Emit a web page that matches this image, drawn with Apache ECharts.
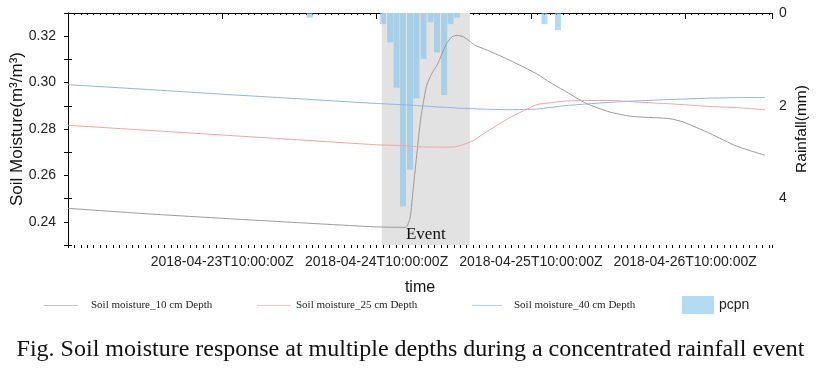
<!DOCTYPE html>
<html><head><meta charset="utf-8">
<script src="https://cdn.jsdelivr.net/npm/echarts@6/dist/echarts.min.js"></script>
<style>html,body{margin:0;padding:0;background:#fff}#c{width:821px;height:374px}</style>
</head><body><div id="c"></div>
<script>
// hours since 2018-04-22T10:00:00Z
const moistureHours = [0, 12, 24, 36, 48, 52.5, 53.2, 53.7, 54.3, 54.8, 55.3, 55.8, 56.6, 57.4, 58.2, 58.9, 59.7, 60.5, 61.5, 62.6, 63.3, 65.2, 68.8, 72.9, 75, 77.1, 80.7, 84.3, 87.5, 91, 93.5, 95.7, 99.9, 104, 108.4];
const moisture10cm = [0.2458, 0.2435, 0.2415, 0.2396, 0.2378, 0.2376, 0.2416, 0.2545, 0.2703, 0.2832, 0.2918, 0.2989, 0.3040, 0.3075, 0.3126, 0.3169, 0.3197, 0.3204, 0.3197, 0.3176, 0.3161, 0.3140, 0.3095, 0.3038, 0.3000, 0.2967, 0.2909, 0.2873, 0.2855, 0.2849, 0.2845, 0.2830, 0.2780, 0.2726, 0.2687];
const moisture25cm = [0.2816, 0.2795, 0.2774, 0.2753, 0.2732, 0.2728, 0.2726, 0.2725, 0.2724, 0.2723, 0.2723, 0.2722, 0.2722, 0.2722, 0.2722, 0.2722, 0.2722, 0.2725, 0.2733, 0.2745, 0.2755, 0.2790, 0.2850, 0.2905, 0.2913, 0.2920, 0.2923, 0.2923, 0.2918, 0.2912, 0.2909, 0.2905, 0.2897, 0.2892, 0.2883];
const moisture40cm = [0.2991, 0.2971, 0.2950, 0.2930, 0.2910, 0.2904, 0.2903, 0.2902, 0.2901, 0.2900, 0.2899, 0.2898, 0.2897, 0.2895, 0.2894, 0.2893, 0.2892, 0.2890, 0.2889, 0.2888, 0.2887, 0.2885, 0.2883, 0.2886, 0.2893, 0.2900, 0.2908, 0.2915, 0.2920, 0.2924, 0.2927, 0.2929, 0.2933, 0.2935, 0.2936];
const rainHours = [37.6, 49.0, 50.1, 51.1, 52.1, 53.2, 54.2, 55.3, 56.4, 57.4, 58.5, 59.5, 60.5, 74.1, 76.2];
const rainfall  = [0.10, 0.24, 0.63, 1.61, 4.17, 3.38, 1.84, 0.99, 0.20, 0.85, 1.77, 0.24, 0.10, 0.24, 0.37];
const eventRange = [48.8, 62.5];
const xTickLabels = ['', '2018-04-23T10:00:00Z', '2018-04-24T10:00:00Z', '2018-04-25T10:00:00Z', '2018-04-26T10:00:00Z'];
const seriesNames = ['Soil moisture_10 cm Depth', 'Soil moisture_25 cm Depth', 'Soil moisture_40 cm Depth', 'pcpn'];

const pair = (xs, ys) => xs.map((x, i) => [x, ys[i]]);
const chart = echarts.init(document.getElementById('c'), null, {renderer: 'canvas'});
const sans = 'Liberation Sans, Arial, sans-serif';
const serif = 'Liberation Serif, Times New Roman, serif';
const xMax = 109.5;
const legendText = {fontFamily: serif, fontSize: 11, color: '#222'};

chart.setOption({
  animation: false,
  grid: {left: 68, right: 49, top: 13, bottom: 129, containLabel: false, outerBoundsMode: 'none'},
  xAxis: [
    {type: 'value', position: 'bottom', min: 0, max: xMax, interval: 24,
     name: 'time', nameLocation: 'middle', nameGap: 35, nameMoveOverlap: false,
     nameTextStyle: {fontFamily: sans, fontSize: 16, color: '#111'},
     axisLine: {show: true, lineStyle: {color: '#000', width: 1}},
     axisTick: {show: true, inside: false, length: 5, lineStyle: {color: '#000'}},
     axisLabel: {margin: 10, fontFamily: sans, fontSize: 14, color: '#222', showMaxLabel: false,
       formatter: v => (v % 24 === 0 ? (xTickLabels[v / 24] || '') : '')},
     splitLine: {show: false}},
    {type: 'value', position: 'bottom', min: 0, max: xMax, interval: 1,
     axisLine: {show: false}, axisTick: {show: true, inside: false, length: 3, lineStyle: {color: '#000'}},
     axisLabel: {show: false}, splitLine: {show: false}},
    {type: 'value', position: 'top', min: 0, max: xMax, interval: 1,
     axisLine: {show: true, lineStyle: {color: '#000'}}, axisTick: {show: true, inside: true, length: 2, lineStyle: {color: '#000'}},
     axisLabel: {show: false}, splitLine: {show: false}},
    {type: 'value', position: 'top', min: 0, max: xMax, interval: 24,
     axisLine: {show: false}, axisTick: {show: true, inside: true, length: 6, lineStyle: {color: '#000'}},
     axisLabel: {show: false}, splitLine: {show: false}}
  ],
  yAxis: [
    {type: 'value', position: 'left', min: 0.23, max: 0.33, interval: 0.01,
     name: 'Soil Moisture(m³/m³)', nameLocation: 'middle', nameGap: 42, nameMoveOverlap: false,
     nameTextStyle: {fontFamily: sans, fontSize: 17, color: '#111'},
     axisLine: {show: true, lineStyle: {color: '#000'}},
     axisTick: {show: true, length: 4, lineStyle: {color: '#000'}},
     axisLabel: {margin: 12, fontFamily: sans, fontSize: 14, color: '#222',
       formatter: v => { const k = Math.round(v * 100); return (k % 2 === 0 && k > 23 && k < 33) ? (k / 100).toFixed(2) : ''; }},
     splitLine: {show: false}},
    {type: 'value', position: 'right', inverse: true, min: 0, max: 5, interval: 1,
     name: 'Rainfall(mm)', nameLocation: 'middle', nameGap: 22, nameMoveOverlap: false,
     nameTextStyle: {fontFamily: sans, fontSize: 15.5, color: '#111'},
     axisLine: {show: true, lineStyle: {color: '#000'}},
     axisTick: {show: true, length: 4, lineStyle: {color: '#000'}},
     axisLabel: {margin: 7, fontFamily: sans, fontSize: 14, color: '#222',
       formatter: v => (Math.round(v) % 2 === 0 && v < 5 ? String(Math.round(v)) : '')},
     splitLine: {show: false}}
  ],
  legend: [
    {data: [seriesNames[0]], icon: 'rect', left: 39, top: 295, itemWidth: 34, itemHeight: 1.2, textStyle: Object.assign({padding: [0, 0, 0, 8]}, legendText)},
    {data: [seriesNames[1]], icon: 'rect', left: 252, top: 295, itemWidth: 34, itemHeight: 1.2, textStyle: legendText},
    {data: [seriesNames[2]], icon: 'rect', left: 467, top: 295, itemWidth: 30, itemHeight: 1.2, textStyle: Object.assign({padding: [0, 0, 0, 7]}, legendText)},
    {data: [seriesNames[3]], icon: 'rect', left: 677, top: 291, itemWidth: 32, itemHeight: 18, textStyle: {fontFamily: sans, fontSize: 14, color: '#222'}}
  ],
  series: [
    {name: seriesNames[3], type: 'bar', xAxisIndex: 0, yAxisIndex: 1, barWidth: 6,
     itemStyle: {color: 'rgba(130,195,236,0.6)'}, data: pair(rainHours, rainfall), z: 2,
     markArea: {silent: true, itemStyle: {color: '#e2e2e2'},
       label: {show: true, position: 'insideBottom', distance: 2, formatter: 'Event', fontFamily: serif, fontSize: 17, color: '#111'},
       data: [[{xAxis: eventRange[0]}, {xAxis: eventRange[1]}]]}},
    {name: seriesNames[0], type: 'line', xAxisIndex: 0, yAxisIndex: 0, symbol: 'none', smooth: 0.2,
     lineStyle: {color: '#9a9a9a', width: 1}, itemStyle: {color: '#c4c4c4'}, data: pair(moistureHours, moisture10cm), z: 3},
    {name: seriesNames[1], type: 'line', xAxisIndex: 0, yAxisIndex: 0, symbol: 'none', smooth: 0.2,
     lineStyle: {color: '#f4a3a3', width: 1}, itemStyle: {color: '#f8c4c4'}, data: pair(moistureHours, moisture25cm), z: 3},
    {name: seriesNames[2], type: 'line', xAxisIndex: 0, yAxisIndex: 0, symbol: 'none', smooth: 0.2,
     lineStyle: {color: '#8db4ea', width: 1}, itemStyle: {color: '#b9d2f3'}, data: pair(moistureHours, moisture40cm), z: 3}
  ],
  graphic: [
    {type: 'text', left: 'center', top: 338,
     style: {text: 'Fig. Soil moisture response at multiple depths during a concentrated rainfall event',
       font: '24px "Liberation Serif", "Times New Roman", serif', fill: '#111'}}
  ]
});
</script></body></html>
